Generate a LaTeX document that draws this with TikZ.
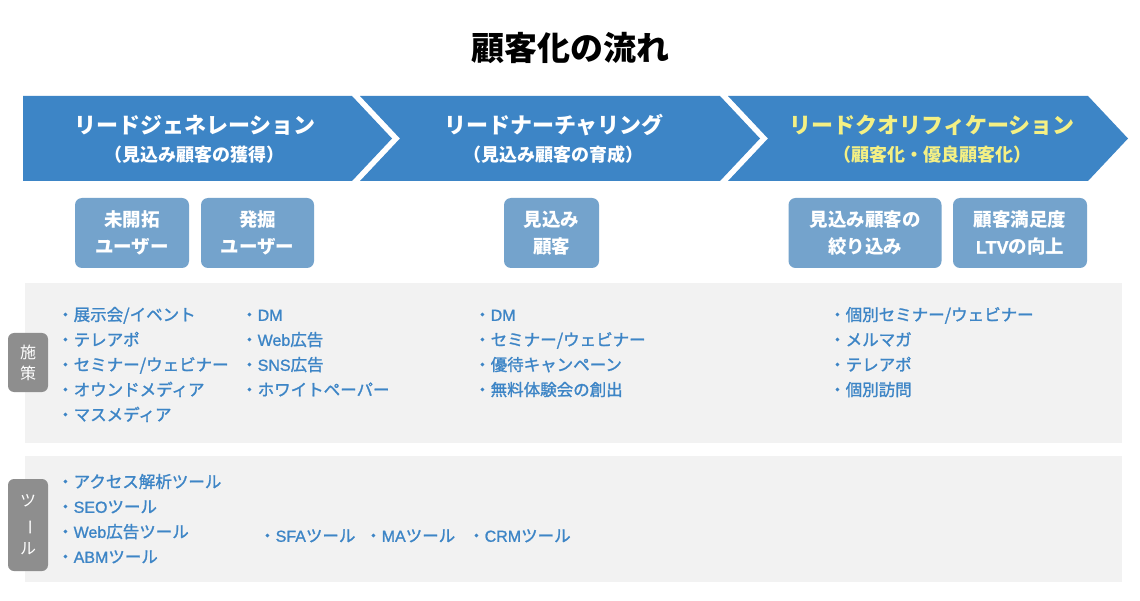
\documentclass[tikz,border=0pt]{standalone}
\usepackage{fontspec}
\usepackage{graphicx}
\setmainfont{Noto Sans CJK JP}
\newfontfamily\jpmed{Noto Sans CJK JP}[FakeBold=1.4]
\newfontfamily\latf{Liberation Sans}[FakeBold=1.2]
\newcommand{\lat}[1]{{\latf\fontsize{16}{20}\selectfont #1}}
\definecolor{arrowblue}{HTML}{3D85C6}
\definecolor{boxblue}{HTML}{74A3CC}
\definecolor{panelgray}{HTML}{F2F2F2}
\definecolor{tabgray}{HTML}{8E8E8E}
\definecolor{textblue}{HTML}{3D85C6}
\definecolor{softyellow}{HTML}{F4F084}
\tikzset{
  headmain/.style={text=white, font=\bfseries\fontsize{22}{26}\selectfont, inner sep=0pt},
  headsub/.style={text=white, font=\bfseries\fontsize{18}{20}\selectfont, inner sep=0pt},
  smallbox/.style={fill=boxblue, rounded corners=7pt, text=white, align=center,
    font=\bfseries\fontsize{18.5}{27}\selectfont, inner sep=0pt, minimum height=70pt},
  panel/.style={fill=panelgray, inner sep=0pt, anchor=north west},
  tabbox/.style={fill=tabgray, rounded corners=6pt, text=white, align=center,
    font=\fontsize{16}{21}\selectfont, inner sep=0pt, minimum width=40pt},
  item/.style={anchor=west, text=textblue, inner sep=0pt, font=\jpmed\fontsize{16.5}{20}\selectfont,
    text height=0.88em, text depth=0.12em}
}
\begin{document}
\begin{tikzpicture}[x=1pt,y=-1pt]
\useasboundingbox (0,0) rectangle (1140,601);
\fill[white] (0,0) rectangle (1140,601);

% title
\node[font=\bfseries\fontsize{33}{36}\selectfont, inner sep=0pt] (title) at (570,48) {顧客化の流れ};

% chevrons
\fill[arrowblue] (23,96) -- (352,96) -- (392,138.5) -- (352,181) -- (23,181) -- cycle;
\fill[arrowblue] (360,96) -- (720,96) -- (760,138.5) -- (720,181) -- (360,181) -- (400,138.5) -- cycle;
\fill[arrowblue] (728,96) -- (1088,96) -- (1128,138.5) -- (1088,181) -- (728,181) -- (768,138.5) -- cycle;

\node[headmain] (h1) at (195,125) {リードジェネレーション};
\node[headsub] (s1) at (194,155) {（見込み顧客の獲得）};
\node[headmain] (h2) at (554,125) {リードナーチャリング};
\node[headsub] (s2) at (553,155) {（見込み顧客の育成）};
\node[headmain, text=softyellow] (h3) at (932,125) {リードクオリフィケーション};
\node[headsub, text=softyellow] (s3) at (932,155) {（顧客化・優良顧客化）};

% small boxes
\node[smallbox, minimum width=114pt] (b1) at (132,233) {未開拓\\ユーザー};
\node[smallbox, minimum width=113pt] (b2) at (257.5,233) {発掘\\ユーザー};
\node[smallbox, minimum width=95pt] (b3) at (551.5,233) {見込み\\顧客};
\node[smallbox, minimum width=153pt] (b4) at (865,233) {見込み顧客の\\絞り込み};
\node[smallbox, minimum width=134pt] (b5) at (1020,233) {顧客満足度\\{\latf\fontsize{18}{20}\selectfont LTV}の向上};

% panels
\node[panel, minimum width=1097pt, minimum height=160pt] (p1) at (25,283) {};
\node[panel, minimum width=1097pt, minimum height=126pt] (p2) at (25,456) {};

% tabs
\node[tabbox, minimum height=59pt] (t1) at (28,362.5) {施\\策};
\node[tabbox, minimum height=92pt, font=\fontsize{16}{24}\selectfont] (t2) at (28,525) {ツ\\\rotatebox[origin=c]{-90}{ー}\\ル};

% panel 1 items
\foreach \t [count=\i] in {展示会/イベント, テレアポ, セミナー/ウェビナー, オウンドメディア, マスメディア}
  \node[item] (a\i) at (57,{317+25*(\i-1)}) {・\t};
\foreach \t [count=\i] in {\lat{DM}, \lat{Web}広告, \lat{SNS}広告, ホワイトペーパー}
  \node[item] (b\i x) at (241,{317+25*(\i-1)}) {・\t};
\foreach \t [count=\i] in {\lat{DM}, セミナー/ウェビナー, 優待キャンペーン, 無料体験会の創出}
  \node[item] (c\i) at (474,{317+25*(\i-1)}) {・\t};
\foreach \t [count=\i] in {個別セミナー/ウェビナー, メルマガ, テレアポ, 個別訪問}
  \node[item] (d\i) at (829,{317+25*(\i-1)}) {・\t};

% panel 2 items
\foreach \t [count=\i] in {アクセス解析ツール, \lat{SEO}ツール, \lat{Web}広告ツール, \lat{ABM}ツール}
  \node[item] (e\i) at (57,{484+25*(\i-1)}) {・\t};
\node[item] (f1) at (259,538) {・\lat{SFA}ツール};
\node[item] (f2) at (365,538) {・\lat{MA}ツール};
\node[item] (f3) at (468,538) {・\lat{CRM}ツール};
\end{tikzpicture}
\end{document}
